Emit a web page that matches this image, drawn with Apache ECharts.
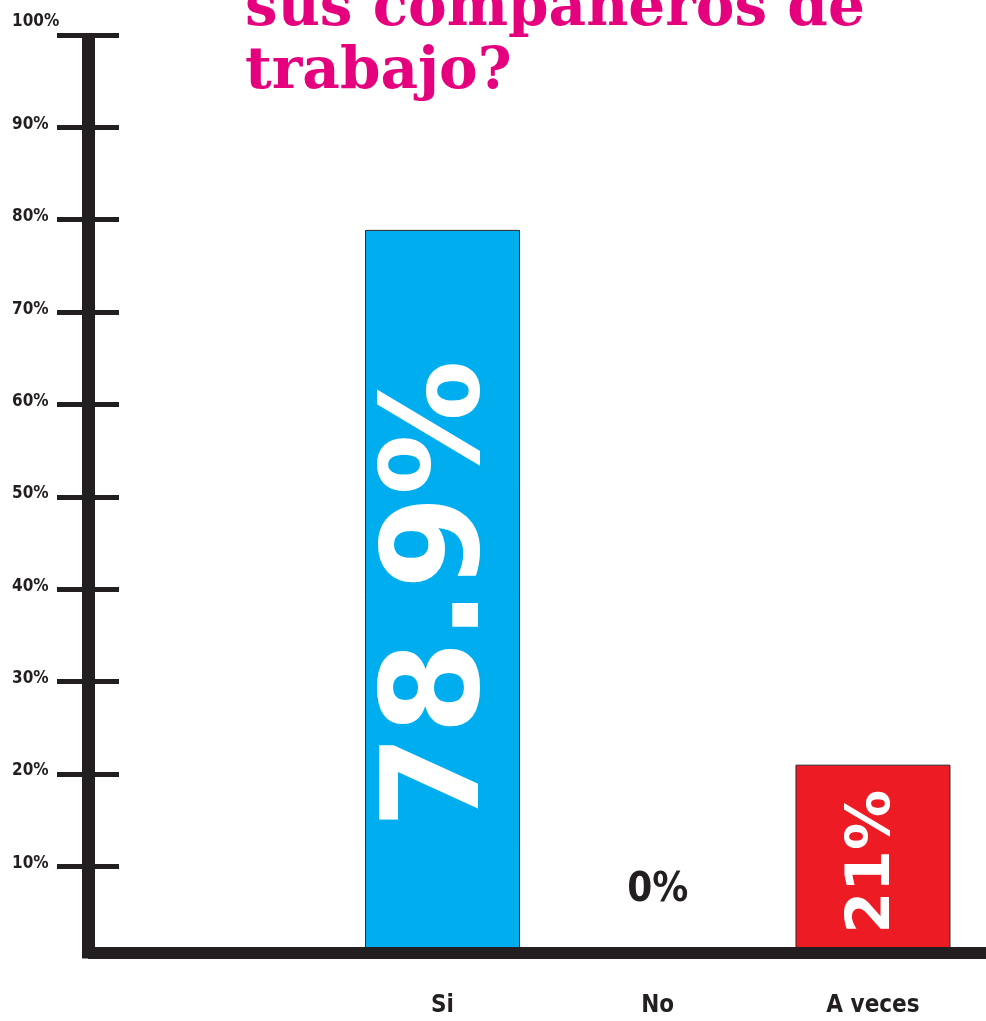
<!DOCTYPE html>
<html>
<head>
<meta charset="utf-8">
<script src="https://cdn.jsdelivr.net/npm/echarts@6/dist/echarts.min.js"></script>
<style>
  html, body { margin: 0; padding: 0; background: #ffffff; }
  #chart { width: 986px; height: 1021px; }
</style>
</head>
<body>
<div id="chart"></div>
<script>
// Question text (two lines of the heading)
const titleLines = ['sus compañeros de', 'trabajo?'];

// Answers and their shares in percent
const categories = ['Si', 'No', 'A veces'];
const values = [78.9, 0, 21];
const barColors = ['#00AEEF', '#FFFFFF', '#ED1C24'];

// Tick positions on the percent axis
const tickValues = [10, 20, 30, 40, 50, 60, 70, 80, 90, 100];

const INK = '#231F20';
const NARROW = "'Liberation Sans Narrow', 'DejaVu Sans Condensed', 'Roboto Condensed', sans-serif";

const chart = echarts.init(document.getElementById('chart'), null, { renderer: 'canvas' });

const labelStyles = [
  { show: true, position: 'inside', rotate: 90, color: '#FFFFFF',
    fontFamily: "'DejaVu Sans', sans-serif", fontWeight: 'bold', fontSize: 135 },
  { show: true, position: 'top', distance: 48, color: INK,
    fontFamily: NARROW, fontWeight: 'bold', fontSize: 40 },
  { show: true, position: 'inside', rotate: 90, color: '#FFFFFF',
    fontFamily: "'DejaVu Sans', sans-serif", fontWeight: 'bold', fontSize: 60 }
];

const barData = values.map((v, i) => ({
  value: v,
  itemStyle: {
    color: barColors[i],
    borderColor: v > 0 ? '#2a2a2a' : 'transparent',
    borderWidth: v > 0 ? 1 : 0
  },
  label: Object.assign({ formatter: p => p.value + '%' }, labelStyles[i])
}));

const axisTextStyle = {
  fontFamily: NARROW, fontWeight: 'bold', fontSize: 17, color: INK
};

const option = {
  backgroundColor: '#ffffff',
  animation: false,
  graphic: [{
    type: 'text',
    left: 245,
    top: -22,
    z: 10,
    style: {
      text: titleLines.join('\n'),
      font: "bold 58px 'DejaVu Serif', serif",
      fill: '#E5007E',
      lineHeight: 63
    }
  }],
  grid: [
    // frame: axis lines and percent ticks
    { left: 88, right: 0, top: 35, bottom: 62.4 },
    // bars
    { left: 334.9, right: 5.4, top: 35, bottom: 62.4 }
  ],
  xAxis: [
    {
      gridIndex: 0, type: 'value', min: 0, max: 1, z: 5, offset: -6,
      axisLine: { show: true, onZero: false, lineStyle: { color: INK, width: 12, cap: 'butt' } },
      axisTick: { show: false }, axisLabel: { show: false }, splitLine: { show: false }
    },
    {
      gridIndex: 1, type: 'category', data: categories,
      axisLine: { show: false }, axisTick: { show: false }, splitLine: { show: false },
      axisLabel: { margin: 35, fontFamily: NARROW, fontWeight: 'bold', fontSize: 24, color: INK }
    }
  ],
  yAxis: [
    {
      gridIndex: 0, type: 'value', min: 0, max: 100, interval: 10, z: 5,
      axisLine: { show: true, onZero: false, lineStyle: { color: INK, width: 13, cap: 'butt' } },
      axisTick: { show: true, customValues: tickValues, length: 31, lineStyle: { color: INK, width: 5, cap: 'butt' } },
      axisLabel: {
        show: true, customValues: tickValues, margin: 76, align: 'left',
        formatter: v => (v === 100 ? '{top|' + v + '%}' : '{n|' + v + '%}'),
        rich: {
          n: Object.assign({ padding: [0, 0, 6, 0] }, axisTextStyle),
          top: Object.assign({ padding: [0, 0, 27, 0] }, axisTextStyle)
        }
      },
      splitLine: { show: false }
    },
    {
      gridIndex: 0, type: 'value', min: 0, max: 100, interval: 10, z: 5, position: 'left',
      axisLine: { show: false },
      axisTick: { show: true, inside: true, customValues: tickValues, length: 31, lineStyle: { color: INK, width: 5, cap: 'butt' } },
      axisLabel: { show: false }, splitLine: { show: false }
    },
    {
      gridIndex: 1, type: 'value', min: 0, max: 100, show: false
    }
  ],
  series: [{
    type: 'bar',
    xAxisIndex: 1,
    yAxisIndex: 2,
    barWidth: 155,
    data: barData
  }]
};

chart.setOption(option);
</script>
</body>
</html>
